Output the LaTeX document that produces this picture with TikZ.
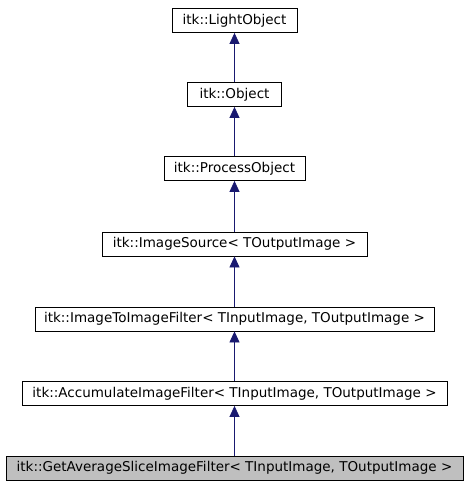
\documentclass[tikz,border=0pt]{standalone}
\usepackage{fontspec}
\setmainfont{DejaVu Sans}
\usetikzlibrary{arrows.meta}
\definecolor{edge}{HTML}{191970}
\tikzset{
  cls/.style={draw=black, line width=0.8pt, minimum height=24pt, inner sep=0pt, font=\fontsize{13.5pt}{15pt}\selectfont, fill=white},
  cur/.style={cls, fill={rgb,255:red,191;green,191;blue,191}},
  inh/.style={draw=edge, line width=0.8pt, -{Triangle[length=11pt,width=10pt,fill=edge]}}
}
\begin{document}
\begin{tikzpicture}[x=1pt,y=-1pt]
\useasboundingbox (0,0) rectangle (467,485);
\node[cls, minimum width=125pt] (light) at (234.5,20.5) {itk::LightObject};
\node[cls, minimum width=94pt] (obj) at (234.5,94.5) {itk::Object};
\node[cls, minimum width=141pt] (proc) at (234.5,168.5) {itk::ProcessObject};
\node[cls, minimum width=265pt] (src) at (234.5,244) {itk::ImageSource< TOutputImage >};
\node[cls, minimum width=399pt] (i2i) at (234.5,319) {itk::ImageToImageFilter< TInputImage, TOutputImage >};
\node[cls, minimum width=425pt] (acc) at (234.5,393.5) {itk::AccumulateImageFilter< TInputImage, TOutputImage >};
\node[cur, minimum width=457pt] (avg) at (234.5,468) {itk::GetAverageSliceImageFilter< TInputImage, TOutputImage >};
\draw[inh] (obj) -- (light);
\draw[inh] (proc) -- (obj);
\draw[inh] (src) -- (proc);
\draw[inh] (i2i) -- (src);
\draw[inh] (acc) -- (i2i);
\draw[inh] (avg) -- (acc);
\end{tikzpicture}
\end{document}
